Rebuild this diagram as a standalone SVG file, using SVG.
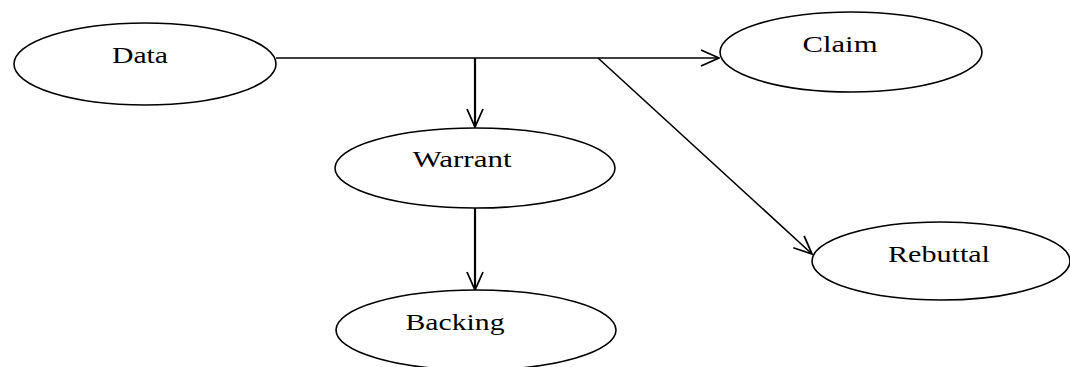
<svg xmlns="http://www.w3.org/2000/svg" width="1070" height="367" viewBox="0 0 1070 367">
<defs>
<marker id="arr" viewBox="0 0 20 20" refX="19" refY="10" markerWidth="20" markerHeight="20" markerUnits="userSpaceOnUse" orient="auto">
<path d="M1,2 L19,10 L1,18" fill="none" stroke="#000" stroke-width="1.8"/>
</marker>
<style>
.n ellipse{fill:#fff;stroke:#000;stroke-width:1.6}
.n text{font-family:"Liberation Serif","Times New Roman",serif;font-size:24px;fill:#000;text-anchor:middle}
.c line,.c path{stroke:#000;fill:none}
</style>
</defs>
<rect width="1070" height="367" fill="#fff"/>
<g class="c" id="connectors">
<line x1="276" y1="58" x2="719" y2="58" stroke-width="1.5" marker-end="url(#arr)"/>
<line x1="475" y1="58" x2="475" y2="127" stroke-width="2.2" marker-end="url(#arr)"/>
<line x1="598" y1="58" x2="812" y2="254" stroke-width="1.6" marker-end="url(#arr)"/>
<line x1="475" y1="208" x2="475" y2="290" stroke-width="2.2" marker-end="url(#arr)"/>
</g>
<g class="n" id="data"><ellipse cx="145" cy="64" rx="131" ry="41"/><text x="140" y="63" textLength="56" lengthAdjust="spacingAndGlyphs">Data</text></g>
<g class="n" id="claim"><ellipse cx="851" cy="52" rx="131" ry="40"/><text x="840" y="52" textLength="75" lengthAdjust="spacingAndGlyphs">Claim</text></g>
<g class="n" id="warrant"><ellipse cx="475" cy="168" rx="140" ry="40"/><text x="462" y="167" textLength="99" lengthAdjust="spacingAndGlyphs">Warrant</text></g>
<g class="n" id="backing"><ellipse cx="476" cy="330" rx="140" ry="40"/><text x="455" y="330" textLength="99" lengthAdjust="spacingAndGlyphs">Backing</text></g>
<g class="n" id="rebuttal"><ellipse cx="941" cy="261" rx="129" ry="39"/><text x="939" y="262" textLength="102" lengthAdjust="spacingAndGlyphs">Rebuttal</text></g>
</svg>
